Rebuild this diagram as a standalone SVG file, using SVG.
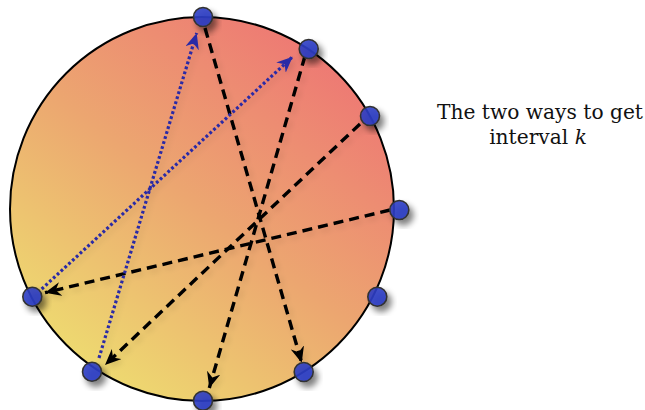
<svg xmlns="http://www.w3.org/2000/svg" width="645" height="410" viewBox="0 0 645 410">
<defs>
  <linearGradient id="bg" x1="0.85" y1="0.05" x2="0.15" y2="0.95">
    <stop offset="0" stop-color="#ee7474"/>
    <stop offset="0.5" stop-color="#eca670"/>
    <stop offset="1" stop-color="#eee070"/>
  </linearGradient>
  <filter id="shadow" x="-50%" y="-50%" width="200%" height="200%">
    <feGaussianBlur in="SourceAlpha" stdDeviation="3"/>
    <feOffset dx="4" dy="5" result="b"/>
    <feComponentTransfer><feFuncA type="linear" slope="0.55"/></feComponentTransfer>
    <feMerge><feMergeNode/><feMergeNode in="SourceGraphic"/></feMerge>
  </filter>
  <filter id="lshadow" x="-20%" y="-20%" width="140%" height="140%">
    <feGaussianBlur in="SourceAlpha" stdDeviation="3"/>
    <feOffset dx="3" dy="3" result="b"/>
    <feComponentTransfer><feFuncA type="linear" slope="0.12"/></feComponentTransfer>
    <feMerge><feMergeNode/><feMergeNode in="SourceGraphic"/></feMerge>
  </filter>
  <marker id="ab" markerUnits="userSpaceOnUse" markerWidth="17" markerHeight="14" refX="16" refY="7" orient="auto" viewBox="0 0 17 14">
    <path d="M0,0 L16,7 L0,14 L5,7 Z" fill="#000"/>
  </marker>
  <marker id="au" markerUnits="userSpaceOnUse" markerWidth="17" markerHeight="14" refX="16" refY="7" orient="auto" viewBox="0 0 17 14">
    <path d="M0,0 L16,7 L0,14 L5,7 Z" fill="#2a2aa6"/>
  </marker>
  <style>
    .node { fill: #2f3fc4; fill-opacity: 0.9; stroke: #333; stroke-width: 1.6; }
    .dash { fill: none; stroke: #000; stroke-width: 3.4; stroke-dasharray: 10 6; marker-end: url(#ab); }
    .dot { fill: none; stroke: #2a2aa6; stroke-width: 3.2; stroke-dasharray: 2.8 2.4; marker-end: url(#au); }
    .lbl { font-family: "DejaVu Serif", "Liberation Serif", serif; font-size: 20.2px; fill: #111; text-anchor: middle; }
  </style>
</defs>
<circle id="disk" cx="202" cy="209" r="192" fill="url(#bg)" stroke="#000" stroke-width="2"/>
<g id="connectors" filter="url(#lshadow)">
  <path class="dash" d="M205,28 L301.7,362.7"/>
  <path class="dash" d="M305,56 L209.3,388"/>
  <path class="dash" d="M360,124 L105,365"/>
  <path class="dash" d="M390,210 L45,292.7"/>
  <path class="dot" d="M41.7,289 L292.7,56.7"/>
  <path class="dot" d="M99,358 L196.7,33"/>
</g>
<g id="nodeA" filter="url(#shadow)"><circle class="node" cx="203" cy="17" r="9.5"/></g>
<g id="nodeB" filter="url(#shadow)"><circle class="node" cx="308.7" cy="49" r="9.5"/></g>
<g id="nodeC" filter="url(#shadow)"><circle class="node" cx="370" cy="116" r="9.5"/></g>
<g id="nodeD" filter="url(#shadow)"><circle class="node" cx="399.3" cy="210" r="9.5"/></g>
<g id="nodeE" filter="url(#shadow)"><circle class="node" cx="377.3" cy="296.7" r="9.5"/></g>
<g id="nodeF" filter="url(#shadow)"><circle class="node" cx="303.7" cy="372" r="9.5"/></g>
<g id="nodeG" filter="url(#shadow)"><circle class="node" cx="203" cy="400.7" r="9.5"/></g>
<g id="nodeH" filter="url(#shadow)"><circle class="node" cx="92" cy="371.7" r="9.5"/></g>
<g id="nodeI" filter="url(#shadow)"><circle class="node" cx="32.3" cy="296.7" r="9.5"/></g>
<g id="label">
  <text class="lbl" x="540" y="119">The two ways to get</text>
  <text class="lbl" x="538" y="144">interval <tspan font-style="italic">k</tspan></text>
</g>
</svg>
